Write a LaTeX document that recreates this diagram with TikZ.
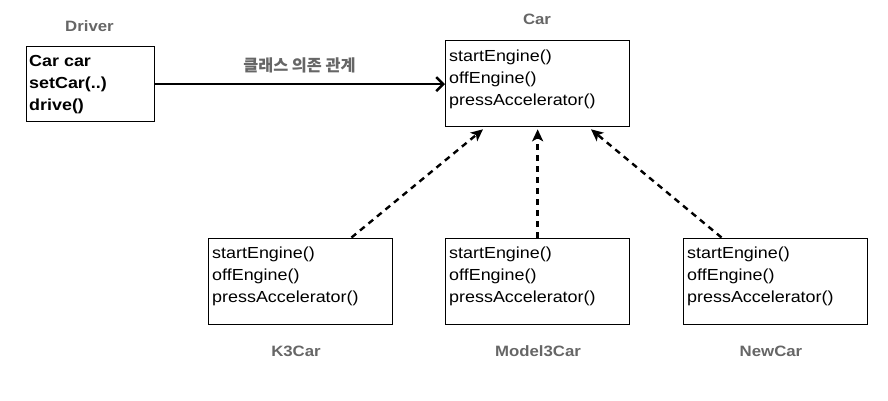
\documentclass[tikz,border=0pt]{standalone}
\usepackage{fontspec}
\setmainfont{Liberation Sans}[FakeStretch=1.12]
\newfontfamily\krfont{Noto Sans CJK KR}
\usetikzlibrary{arrows.meta,calc}
\definecolor{lblgray}{HTML}{666666}
\tikzset{
  classbox/.style={draw, line width=1.3pt, minimum width=184pt, minimum height=86pt, anchor=north west, inner sep=0pt},
  body/.style={anchor=base west, inner sep=0pt, font=\fontsize{16}{22}\selectfont},
  lbl/.style={anchor=base, inner sep=0pt, text=lblgray, font=\fontsize{15}{18}\selectfont\bfseries},
  impl/.style={line width=2.4pt, dash pattern=on 6pt off 5pt, -{Stealth[length=12pt,width=11pt,inset=3pt]}},
  uses/.style={line width=2.5pt, -{Straight Barb[length=7pt,width=14pt]}},
}
\newcommand{\members}[1]{\begin{tabular}[t]{@{}l@{}}#1\end{tabular}}
\begin{document}
\begin{tikzpicture}[x=1pt,y=-1pt]
\useasboundingbox (0,0) rectangle (888,400);
% Driver
\node[classbox, minimum width=128pt, minimum height=75pt] (driver) at (26,46) {};
\node[body, font=\fontsize{16}{22}\selectfont\bfseries] (drivertxt) at (29,66) {\members{Car car\\setCar(..)\\drive()}};
\node[lbl] (driverlbl) at (89.5,31) {Driver};
% Car
\node[classbox] (car) at (445,40) {};
\node[body] (cartxt) at (449,61) {\members{startEngine()\\offEngine()\\pressAccelerator()}};
\node[lbl] (carlbl) at (537,24) {Car};
% implementations
\node[classbox] (k3) at (208,237.5) {};
\node[body] (k3txt) at (212,258.3) {\members{startEngine()\\offEngine()\\pressAccelerator()}};
\node[lbl] (k3lbl) at (296,356) {K3Car};
\node[classbox] (model3) at (445,237.5) {};
\node[body] (model3txt) at (449,258.3) {\members{startEngine()\\offEngine()\\pressAccelerator()}};
\node[lbl] (model3lbl) at (538,356) {Model3Car};
\node[classbox] (newcar) at (683,237.5) {};
\node[body] (newcartxt) at (687,258.3) {\members{startEngine()\\offEngine()\\pressAccelerator()}};
\node[lbl] (newcarlbl) at (771,356) {NewCar};
% dependency
\draw[uses] (driver.east) -- (driver.east -| car.west);
\node[text=lblgray, inner sep=0pt, font=\krfont\bfseries\fontsize{16.3}{18}\selectfont] (rel) at (299.5,65) {클래스 의존 관계};
% realizations
\coordinate (k3s) at ($(k3.north west)+(143.5,0)$);
\coordinate (k3t) at ($(car.south west)+(38,2)$);
\draw[impl] (k3s) -- (k3t);
\draw[impl] (model3.north) -- ($(car.south)+(0,2)$);
\coordinate (news) at ($(newcar.north west)+(38.5,0)$);
\coordinate (newt) at ($(car.south west)+(146,2)$);
\draw[impl] (news) -- (newt);
\end{tikzpicture}
\end{document}
